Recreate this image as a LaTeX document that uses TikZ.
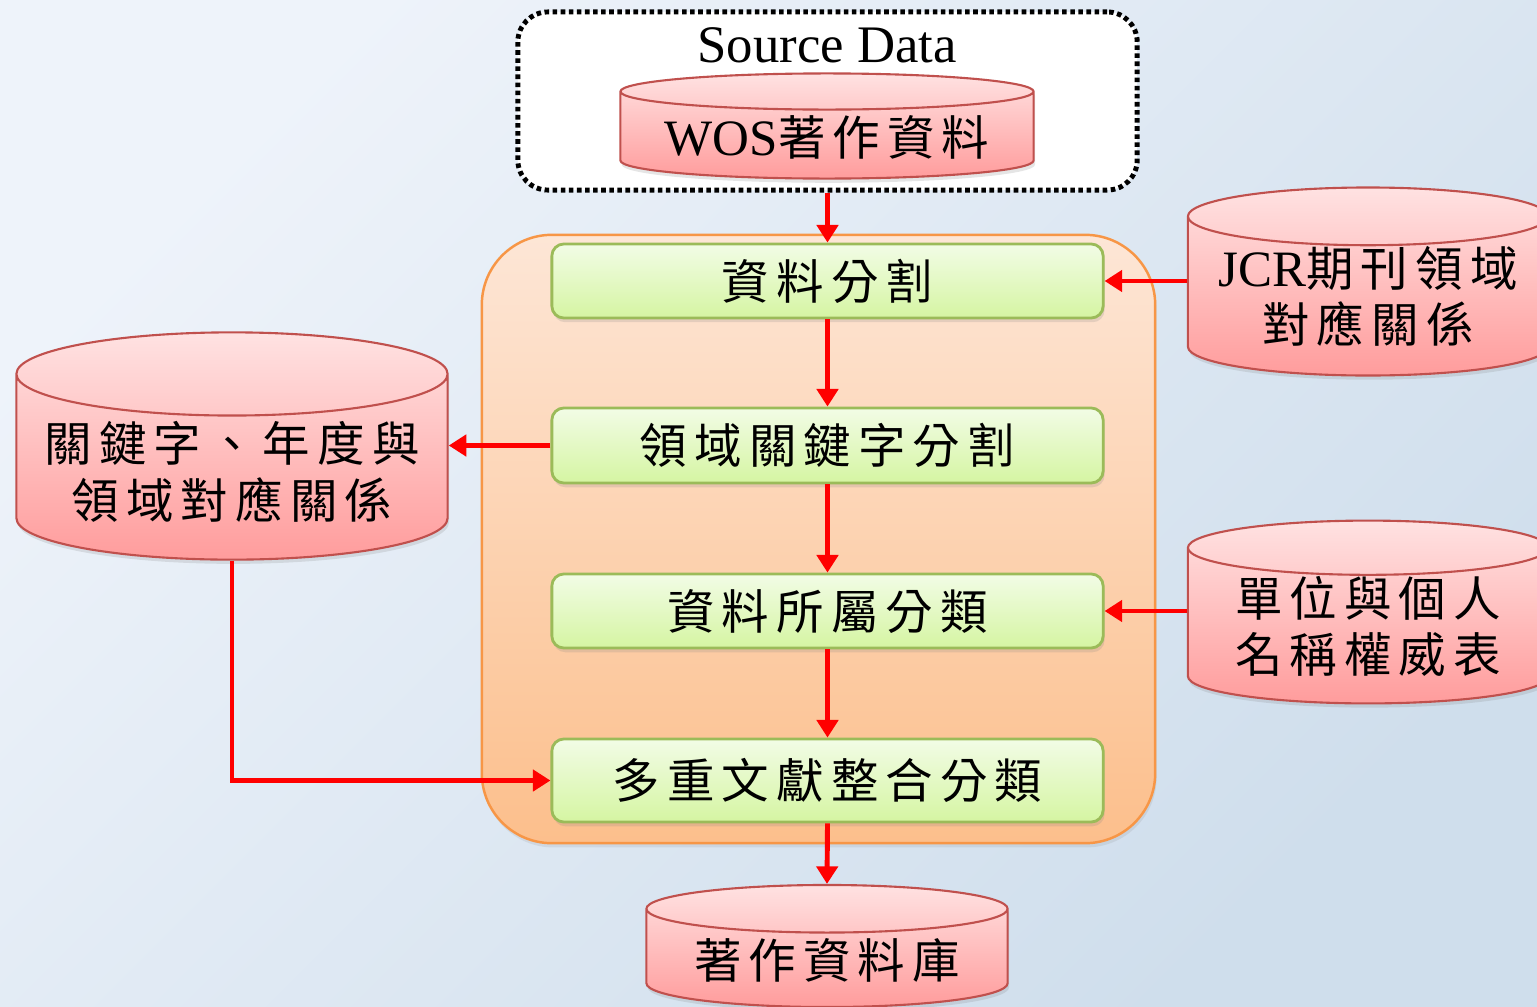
\documentclass[tikz,border=0pt]{standalone}
\usepackage{fontspec}
\setmainfont{Liberation Serif}
\newfontfamily\cjk[LetterSpace=15]{Noto Sans CJK TC}
\usetikzlibrary{shapes.geometric,arrows.meta,shadows}

\definecolor{bgtl}{HTML}{EEF3FA}
\definecolor{bgbr}{HTML}{CFDEEC}
\definecolor{dbtop}{HTML}{FFE2E2}
\definecolor{dbbot}{HTML}{FF9C9C}
\definecolor{dbline}{HTML}{C0504D}
\definecolor{stagetop}{HTML}{FDE6D6}
\definecolor{stagebot}{HTML}{FCBF8C}
\definecolor{stageline}{HTML}{F79646}
\definecolor{steptop}{HTML}{F2FCE6}
\definecolor{stepbot}{HTML}{D5F5A2}
\definecolor{stepline}{HTML}{9BBB59}
\definecolor{flowred}{HTML}{FF0000}

\newcommand\lat[1]{{\rmfamily\fontsize{14.5pt}{16pt}\selectfont #1}}

\tikzset{
  db/.style={cylinder, shape border rotate=90, draw=dbline, line width=0.6pt,
    top color=dbtop, bottom color=dbbot, inner sep=0pt, anchor=shape center,
    align=center, font=\cjk\fontsize{13.5pt}{16pt}\selectfont,
    drop shadow={shadow xshift=0.4pt, shadow yshift=-1.2pt, opacity=0.2}},
  stepbox/.style={rectangle, rounded corners=0.12cm, draw=stepline, line width=0.8pt,
    top color=steptop, bottom color=stepbot, minimum width=5.51cm, inner sep=0pt,
    font=\cjk\fontsize{13.5pt}{16pt}\selectfont,
    drop shadow={shadow xshift=0.4pt, shadow yshift=-1.2pt, opacity=0.2}},
  stage/.style={rectangle, rounded corners=0.7cm, draw=stageline, line width=0.7pt,
    top color=stagetop, bottom color=stagebot, minimum width=6.73cm, minimum height=6.08cm,
    drop shadow={shadow xshift=0.4pt, shadow yshift=-1.2pt, opacity=0.15}},
  srcbox/.style={rectangle, rounded corners=0.3cm, draw=black, fill=white, line width=1.4pt,
    dash pattern=on 1.3pt off 1pt, minimum width=6.19cm, minimum height=1.78cm},
  flow/.style={draw=flowred, line width=1.4pt, -{Triangle[length=5pt,width=6pt]}},
}

\begin{document}
\begin{tikzpicture}[x=0.01cm, y=-0.01cm]
  \useasboundingbox (0,0) rectangle (1537,1006);
  \shade[top color=bgtl, bottom color=bgbr, shading angle=45] (0,0) rectangle (1537,1006);

  % source
  \node[srcbox] (src) at (827.5,101) {};
  \node[font=\fontsize{15pt}{18pt}\selectfont] (srctitle) at (827,45) {Source Data};
  \node[db, minimum width=4.13cm, minimum height=0.96cm, aspect=0.108, inner sep=0.05cm]
    (wos) at (827,126) {\lat{WOS}著作資料};

  % processing stage
  \node[stage] (stage) at (818.5,539) {};
  \node[stepbox, minimum height=0.74cm] (split) at (827.5,281) {資料分割};
  \node[stepbox, minimum height=0.75cm] (kwsplit) at (827.5,445.5) {領域關鍵字分割};
  \node[stepbox, minimum height=0.74cm] (classify) at (827.5,611) {資料所屬分類};
  \node[stepbox, minimum height=0.83cm] (multi) at (827.5,780.5) {多重文獻整合分類};

  % side databases
  \node[db, minimum width=3.6cm, minimum height=1.42cm, aspect=0.193] (jcr) at (1368,281.5)
    {\lat{JCR}期刊領域\\對應關係};
  \node[db, minimum width=4.31cm, minimum height=2.02cm, aspect=0.216, inner sep=0.05cm]
    (kw) at (232,446) {關鍵字、年度與\\領域對應關係};
  \node[db, minimum width=3.6cm, minimum height=1.55cm, aspect=0.204] (unit) at (1368,612)
    {單位與個人\\名稱權威表};
  \node[db, minimum width=3.61cm, minimum height=1.22cm, aspect=0.175, inner sep=0.03cm]
    (out) at (827,946) {著作資料庫};

  % connectors
  \draw[flow] (src.south) -- (split.north);
  \draw[flow] (split.south) -- (kwsplit.north);
  \draw[flow] (kwsplit.south) -- (classify.north);
  \draw[flow] (classify.south) -- (multi.north);
  \draw[flow] (multi.south) -- (out.north);
  \draw[flow] (split.east -| jcr.west) -- (split.east);
  \draw[flow] (kwsplit.west) -- (kwsplit.west -| kw.east);
  \draw[flow] (classify.east -| unit.west) -- (classify.east);
  \draw[flow] (kw.south) |- (multi.west);
\end{tikzpicture}
\end{document}
